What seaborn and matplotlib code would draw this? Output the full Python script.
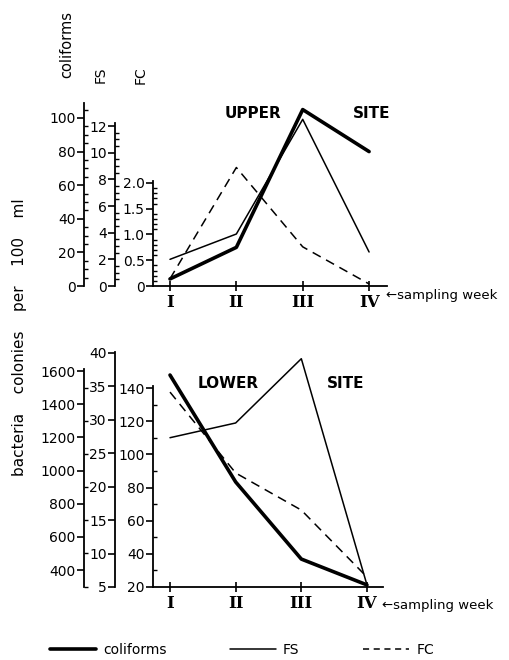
import matplotlib
matplotlib.use("Agg")
import matplotlib.pyplot as plt
import seaborn as sns
import pandas as pd
import numpy as np
from matplotlib.ticker import FixedLocator, FuncFormatter
from matplotlib.lines import Line2D

sns.set_theme(style="ticks")
plt.rcParams['font.family'] = ['DejaVu Sans']
for k in ['text.color', 'axes.labelcolor', 'xtick.color', 'ytick.color', 'axes.edgecolor']:
    plt.rcParams[k] = 'black'

weeks = ["I", "II", "III", "IV"]
upper_coliforms = [4.2, 23, 105, 80]
upper_fs = [2.0, 3.9, 12.5, 2.55]
upper_fc = [0.14, 2.3, 0.76, 0.04]
lower_coliforms = [1576, 931, 466, 310]
lower_fs = [27.3, 29.5, 39.1, 5.3]
lower_fc = [137.6, 88.8, 66.4, 26]

W, H = 509, 660
fig = plt.figure(figsize=(W / 100, H / 100), dpi=100)
fig.patch.set_facecolor("white")

def px_axes(left, top, right, bottom):
    return fig.add_axes([left / W, 1 - bottom / H, (right - left) / W, (bottom - top) / H])

FS_TXT = 10

def style_y(ax, spec):
    lo, hi = spec['tick_range']
    major = np.arange(lo, hi + 1e-9, spec['major'])
    ax.yaxis.set_major_locator(FixedLocator(major))
    if spec['minor']:
        mn = np.arange(spec['minor_start'], spec['bounds'][1] + 1e-9, spec['minor'])
        mn = [m for m in mn if np.min(np.abs(major - m)) > 1e-6]
        ax.yaxis.set_minor_locator(FixedLocator(mn))
    else:
        ax.yaxis.set_minor_locator(FixedLocator([]))
    ax.spines['left'].set_bounds(*spec['bounds'])
    ax.tick_params(axis='y', which='major', direction='out', length=5, width=1.2,
                   labelsize=FS_TXT, pad=1, colors='black')
    ax.tick_params(axis='y', which='minor', direction='in', length=3, width=1.0, colors='black')
    ax.spines['left'].set_linewidth(1.3)
    ax.spines['left'].set_color('black')
    if spec.get('fmt'):
        ax.yaxis.set_major_formatter(spec['fmt'])
    else:
        ax.yaxis.set_major_formatter(FuncFormatter(lambda v, p: f'{v:g}'))

def make_panel(top, bottom, right, xlim, col_spec, fs_spec, fc_spec, data):
    ax = px_axes(153, top, right, bottom)
    ax.set_facecolor('none')
    for s in ['top', 'right']:
        ax.spines[s].set_visible(False)
    ax.spines['bottom'].set_linewidth(1.3)
    ax.spines['bottom'].set_color('black')
    ax.set_ylim(*fc_spec['lim'])
    style_y(ax, fc_spec)
    ax_fs = ax.twinx()
    ax_col = ax.twinx()
    for a, spec, off in [(ax_fs, fs_spec, 38), (ax_col, col_spec, 69)]:
        a.set_facecolor('none')
        a.yaxis.set_label_position('left')
        a.yaxis.set_ticks_position('left')
        a.spines['left'].set_visible(True)
        a.spines['left'].set_position(('outward', off * 0.72))
        for s in ['top', 'right', 'bottom']:
            a.spines[s].set_visible(False)
        a.set_ylim(*spec['lim'])
        style_y(a, spec)
    df = pd.DataFrame({'week': range(4), 'coliforms': data[0], 'FS': data[1], 'FC': data[2]})
    sns.lineplot(data=df, x='week', y='FC', ax=ax, color='black', lw=1.1,
                 linestyle=(0, (6, 4)))
    sns.lineplot(data=df, x='week', y='FS', ax=ax_fs, color='black', lw=1.1)
    sns.lineplot(data=df, x='week', y='coliforms', ax=ax_col, color='black', lw=2.6)
    for a in (ax, ax_fs, ax_col):
        a.set_xlim(*xlim)
        a.set_ylabel('')
        a.set_xlabel('')
    ax.set_xticks(range(4))
    ax.set_xticklabels(weeks, fontfamily='DejaVu Serif', fontsize=12, fontweight='bold')
    ax.tick_params(axis='x', direction='inout', length=7, width=1.2, pad=2, colors='black')
    return ax

fc_fmt = FuncFormatter(lambda v, p: '0' if v == 0 else f'{v:.1f}')
up = make_panel(100, 286, 387, (-0.256, 3.27),
                dict(lim=(0, 110.7), major=20, minor=5, minor_start=0, tick_range=(0, 100), bounds=(0, 109)),
                dict(lim=(0, 13.95), major=2, minor=0.5, minor_start=0, tick_range=(0, 12), bounds=(0, 12.2)),
                dict(lim=(0, 3.61), major=0.5, minor=0.1, minor_start=0, tick_range=(0, 2.0), bounds=(0, 2.03), fmt=fc_fmt),
                (upper_coliforms, upper_fs, upper_fc))
low = make_panel(350, 587, 383, (-0.259, 3.244),
                 dict(lim=(297.5, 1727), major=200, minor=100, minor_start=300, tick_range=(400, 1600), bounds=(297.5, 1615)),
                 dict(lim=(5, 40.4), major=5, minor=None, tick_range=(5, 40), bounds=(5, 40.1)),
                 dict(lim=(20, 163), major=20, minor=10, minor_start=20, tick_range=(20, 140), bounds=(20, 141)),
                 (lower_coliforms, lower_fs, lower_fc))

def ftxt(x, y, s, **kw):
    fig.text(x / W, 1 - y / H, s, **kw)

ftxt(253, 113, "UPPER", ha='center', va='center', fontsize=11, fontweight='bold')
ftxt(372, 113, "SITE", ha='center', va='center', fontsize=11, fontweight='bold')
ftxt(228, 384, "LOWER", ha='center', va='center', fontsize=11, fontweight='bold')
ftxt(346, 384, "SITE", ha='center', va='center', fontsize=11, fontweight='bold')
ftxt(386, 296, "\u2190sampling week", ha='left', va='center', fontsize=9.5)
ftxt(382, 606, "\u2190sampling week", ha='left', va='center', fontsize=9.5)
ftxt(67, 45, "coliforms", ha='center', va='center', rotation=90, fontsize=10.5)
ftxt(101, 75, "FS", ha='center', va='center', rotation=90, fontsize=10)
ftxt(141, 75, "FC", ha='center', va='center', rotation=90, fontsize=10)
ftxt(20, 337, "bacteria    colonies    per    100    ml", ha='center', va='center',
     rotation=90, fontsize=11)

handles = [Line2D([], [], color='black', lw=2.6),
           Line2D([], [], color='black', lw=1.1),
           Line2D([], [], color='black', lw=1.1, linestyle=(0, (4, 3)))]
fig.legend(handles, ['coliforms', 'FS', 'FC'], ncol=3, frameon=False,
           loc='center', bbox_to_anchor=(242 / W, 1 - 650 / H), fontsize=10,
           handlelength=3.3, columnspacing=4.6, handletextpad=0.5)

fig.savefig("out.png", dpi=100, facecolor='white')
